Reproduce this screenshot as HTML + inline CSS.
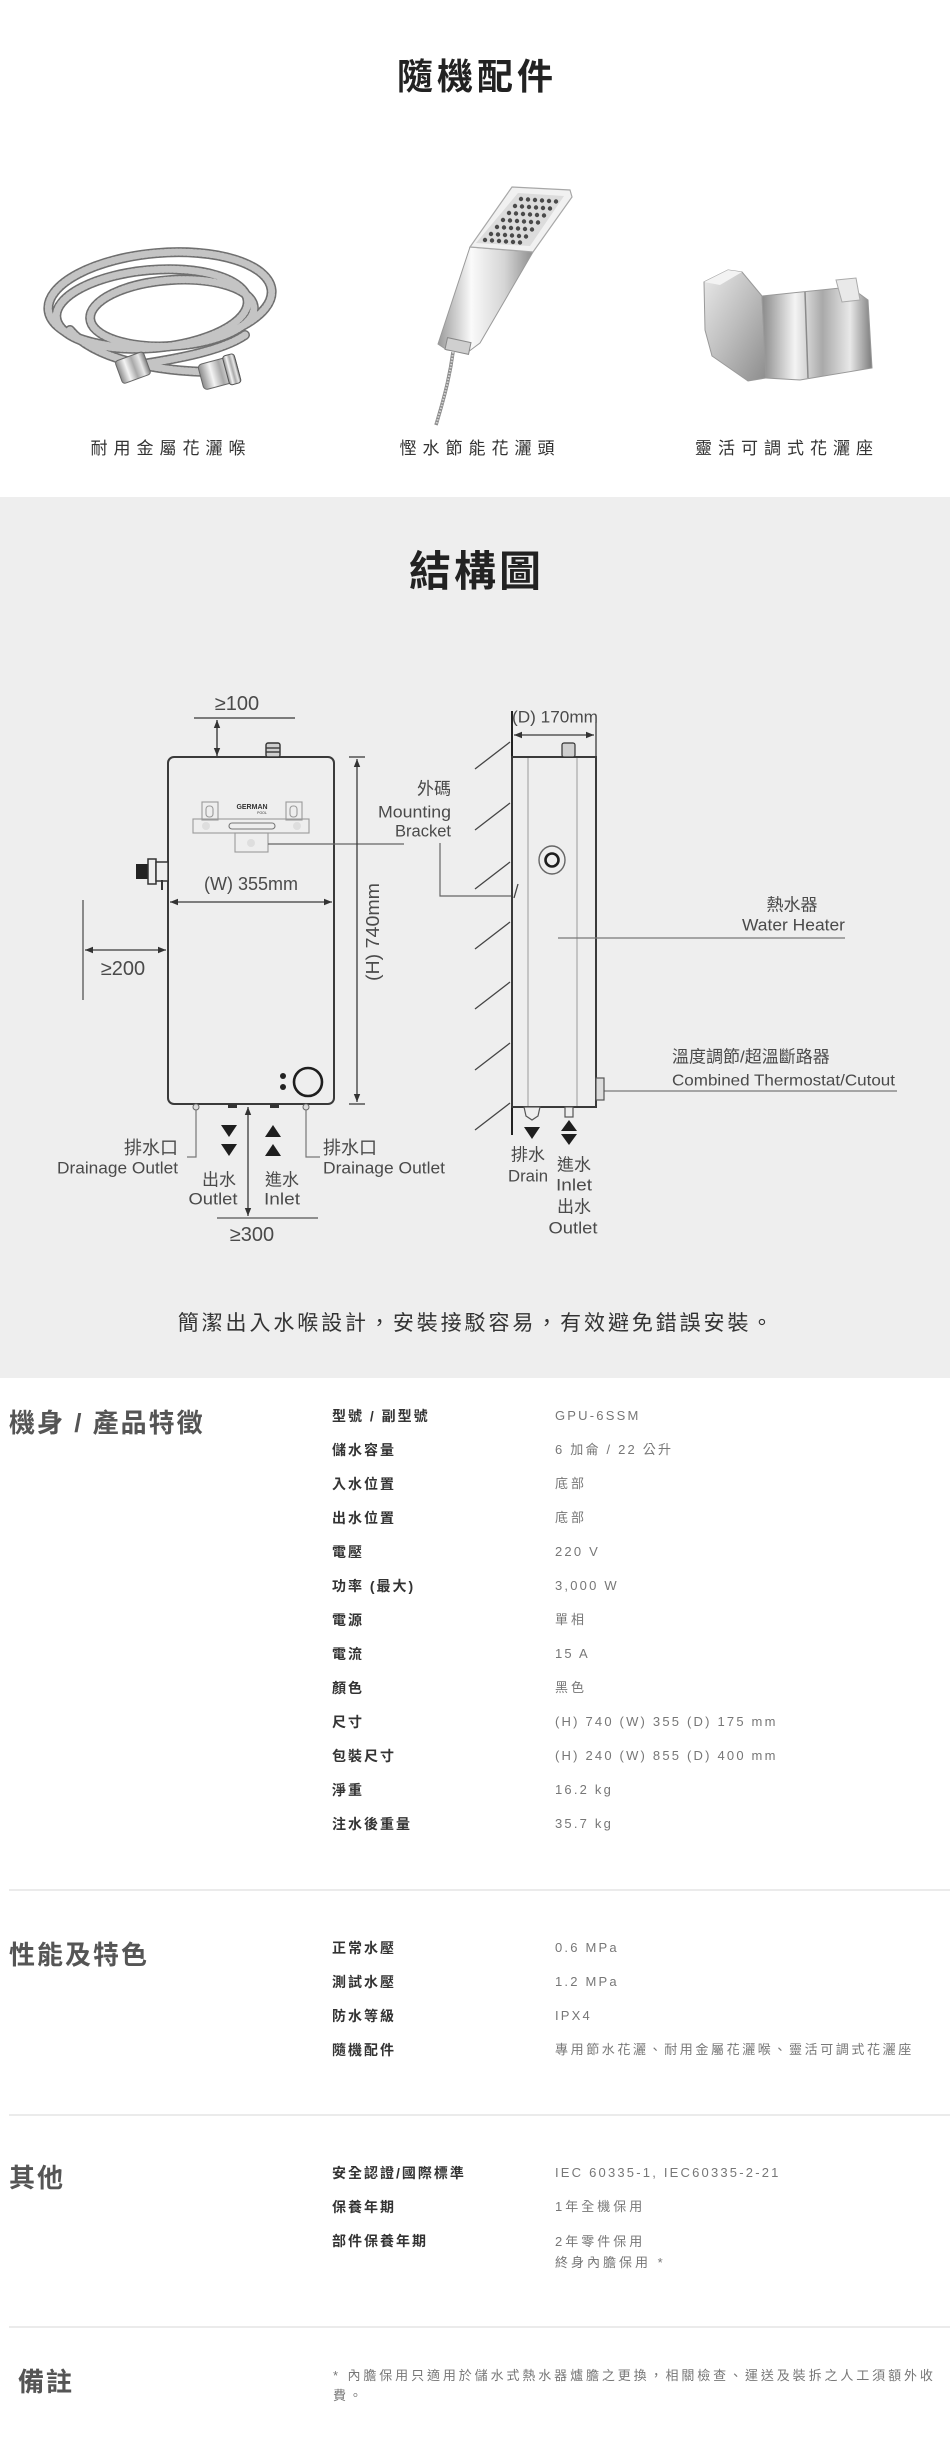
<!DOCTYPE html>
<html><head><meta charset="utf-8">
<style>
html,body{margin:0;padding:0;background:#fff;}
body{width:950px;height:2453px;position:relative;overflow:hidden;font-family:"Liberation Sans","Noto Sans CJK TC",sans-serif;}
.a{position:absolute;white-space:nowrap;}
.ttl{font-family:"Liberation Sans","Noto Sans CJK TC",sans-serif;font-weight:bold;color:#222;text-align:center;left:0;width:950px;}
.acc{font-size:17px;letter-spacing:6px;color:#333;line-height:20px;text-align:center;width:300px;}
.sec{font-size:26px;font-weight:bold;color:#555;letter-spacing:2px;line-height:30px;left:9px;}
.lb{left:332px;font-size:14px;font-weight:bold;color:#333;letter-spacing:2px;line-height:20px;}
.vl{left:555px;font-size:13px;color:#777;letter-spacing:2.2px;line-height:20px;}
.vc{letter-spacing:3px;}
.sep{position:absolute;left:9px;width:941px;height:2px;background:#ebebeb;}
</style></head>
<body>
<div style="position:absolute;left:0;top:497px;width:950px;height:881px;background:#eeeeee;"></div>

<svg width="950" height="2453" style="position:absolute;left:0;top:0" xmlns="http://www.w3.org/2000/svg">
<defs>
<marker id="m" viewBox="0 0 10 10" refX="10" refY="5" markerWidth="8" markerHeight="8" markerUnits="userSpaceOnUse" orient="auto-start-reverse"><path d="M0,1 L10,5 L0,9 z" fill="#333"/></marker>
<linearGradient id="chr" x1="0" y1="0" x2="1" y2="0">
<stop offset="0" stop-color="#8a8a8a"/><stop offset="0.3" stop-color="#f4f4f4"/><stop offset="0.55" stop-color="#a9a9a9"/><stop offset="0.8" stop-color="#e8e8e8"/><stop offset="1" stop-color="#7c7c7c"/></linearGradient>
<linearGradient id="chr2" x1="0" y1="0" x2="1" y2="1">
<stop offset="0" stop-color="#e9e9e9"/><stop offset="0.5" stop-color="#bdbdbd"/><stop offset="1" stop-color="#8d8d8d"/></linearGradient>
<linearGradient id="hd" x1="0" y1="0" x2="1" y2="0">
<stop offset="0" stop-color="#9a9a9a"/><stop offset="0.35" stop-color="#fafafa"/><stop offset="0.7" stop-color="#d5d5d5"/><stop offset="1" stop-color="#8f8f8f"/></linearGradient>
</defs>

<!-- ===== Hose ===== -->
<g fill="none" stroke-linecap="round">
<g stroke="#6f6f6f" stroke-width="10">
<ellipse cx="160" cy="300" rx="112" ry="47" transform="rotate(-5 160 300)"/>
<ellipse cx="152" cy="309" rx="96" ry="39" transform="rotate(-5 152 309)"/>
<ellipse cx="172" cy="313" rx="82" ry="33" transform="rotate(-4 172 313)"/>
<path d="M70,330 C95,360 160,372 215,372"/>
<path d="M245,335 C220,352 170,360 130,366"/>
</g>
<g stroke="#c4c4c4" stroke-width="7" stroke-dasharray="1.6 2.2">
<ellipse cx="160" cy="300" rx="112" ry="47" transform="rotate(-5 160 300)"/>
<ellipse cx="152" cy="309" rx="96" ry="39" transform="rotate(-5 152 309)"/>
<ellipse cx="172" cy="313" rx="82" ry="33" transform="rotate(-4 172 313)"/>
<path d="M70,330 C95,360 160,372 215,372"/>
<path d="M245,335 C220,352 170,360 130,366"/>
</g>
</g>
<g transform="rotate(-20 132 368)"><rect x="118" y="356" width="30" height="24" rx="3" fill="url(#chr)" stroke="#666" stroke-width="1"/></g>
<g transform="rotate(-15 218 372)"><rect x="200" y="360" width="38" height="26" rx="4" fill="url(#chr)" stroke="#666" stroke-width="1"/><rect x="226" y="358" width="12" height="30" rx="3" fill="url(#chr)" stroke="#555"/></g>

<!-- ===== Shower head ===== -->
<path d="M470,247 L533,252 L480,343 L468,352 L447,350 L438,344 Z" fill="url(#hd)" stroke="#9a9a9a" stroke-width="1"/>
<path d="M512,187 L570,190 L572,197 L533,252 L470,247 Z" fill="#f1f1f1" stroke="#a8a8a8" stroke-width="1.2"/>
<path d="M518,193 L564,196 L530,246 L476,243 Z" fill="#dcdcdc"/>
<g fill="#4a4a4a">
<circle cx="521" cy="199" r="2.2"/><circle cx="528" cy="199.5" r="2.2"/><circle cx="535" cy="200" r="2.2"/><circle cx="542" cy="200.5" r="2.2"/><circle cx="549" cy="201" r="2.2"/><circle cx="556" cy="201.5" r="2.2"/>
<circle cx="515" cy="206" r="2.2"/><circle cx="522" cy="206.5" r="2.2"/><circle cx="529" cy="207" r="2.2"/><circle cx="536" cy="207.5" r="2.2"/><circle cx="543" cy="208" r="2.2"/><circle cx="550" cy="208.5" r="2.2"/>
<circle cx="509" cy="213" r="2.2"/><circle cx="516" cy="213.5" r="2.2"/><circle cx="523" cy="214" r="2.2"/><circle cx="530" cy="214.5" r="2.2"/><circle cx="537" cy="215" r="2.2"/><circle cx="544" cy="215.5" r="2.2"/>
<circle cx="503" cy="220" r="2.2"/><circle cx="510" cy="220.5" r="2.2"/><circle cx="517" cy="221" r="2.2"/><circle cx="524" cy="221.5" r="2.2"/><circle cx="531" cy="222" r="2.2"/><circle cx="538" cy="222.5" r="2.2"/>
<circle cx="497" cy="227" r="2.2"/><circle cx="504" cy="227.5" r="2.2"/><circle cx="511" cy="228" r="2.2"/><circle cx="518" cy="228.5" r="2.2"/><circle cx="525" cy="229" r="2.2"/><circle cx="532" cy="229.5" r="2.2"/>
<circle cx="491" cy="234" r="2.2"/><circle cx="498" cy="234.5" r="2.2"/><circle cx="505" cy="235" r="2.2"/><circle cx="512" cy="235.5" r="2.2"/><circle cx="519" cy="236" r="2.2"/><circle cx="526" cy="236.5" r="2.2"/>
<circle cx="485" cy="240" r="2.2"/><circle cx="492" cy="240.5" r="2.2"/><circle cx="499" cy="241" r="2.2"/><circle cx="506" cy="241.5" r="2.2"/><circle cx="513" cy="242" r="2.2"/><circle cx="520" cy="242.5" r="2.2"/>
</g>
<rect x="446" y="340" width="24" height="12" fill="#cfcfcf" stroke="#888" transform="rotate(12 458 346)"/>
<path d="M453,352 C450,375 445,395 436,425" fill="none" stroke="#8a8a8a" stroke-width="3.5"/>
<path d="M453,352 C450,375 445,395 436,425" fill="none" stroke="#d5d5d5" stroke-width="2" stroke-dasharray="1.5 1.5"/>

<!-- ===== Holder ===== -->
<path d="M704,282 L728,270 L742,272 L762,296 L766,378 L748,381 L712,356 L705,330 Z" fill="url(#chr2)" stroke="#9a9a9a" stroke-width="1"/>
<path d="M704,282 L728,270 L742,272 L720,285 Z" fill="#f3f3f3"/>
<path d="M762,296 L850,287 L868,300 L872,368 L800,380 L766,378 Z" fill="url(#chr)" stroke="#999" stroke-width="1"/>
<path d="M836,280 L856,278 L860,300 L842,302 Z" fill="#e9e9e9" stroke="#aaa"/>
<line x1="805" y1="292" x2="808" y2="378" stroke="#8a8a8a" stroke-width="1.5"/>

<!-- ===== Diagram front view ===== -->
<g stroke="#3a3a3a" fill="none" stroke-width="1.4">
<line x1="194" y1="718" x2="295" y2="718" stroke="#555"/>
<line x1="217" y1="720" x2="217" y2="756" marker-start="url(#m)" marker-end="url(#m)"/>
<rect x="168" y="757" width="166" height="347" rx="6" stroke-width="2"/>
<rect x="266" y="743" width="14" height="14" rx="2" fill="#cfcfcf" stroke="#333"/>
<line x1="266" y1="748" x2="280" y2="748"/>
<line x1="266" y1="752" x2="280" y2="752"/>
</g>
<g stroke="#9a9a9a" fill="none" stroke-width="1.1">
<rect x="202" y="802" width="16" height="18"/>
<rect x="206" y="806" width="7" height="11" rx="3"/>
<rect x="286" y="802" width="16" height="18"/>
<rect x="290" y="806" width="7" height="11" rx="3"/>
<rect x="193" y="819" width="116" height="14"/>
<rect x="229" y="823" width="46" height="6" rx="3" stroke="#777"/>
<rect x="235" y="833" width="33" height="19"/>
<circle cx="206" cy="826" r="4" fill="#dedede" stroke="none"/>
<circle cx="297" cy="826" r="4" fill="#dedede" stroke="none"/>
<circle cx="251" cy="843" r="4" fill="#dedede" stroke="none"/>
</g>
<text x="252" y="809" font-family="Liberation Sans" font-size="7" font-weight="bold" fill="#333" text-anchor="middle">GERMAN</text>
<text x="262" y="814" font-family="Liberation Sans" font-size="3.5" fill="#333" text-anchor="middle">POOL</text>

<g stroke="#666" fill="none" stroke-width="1.2">
<line x1="268" y1="844" x2="404" y2="844"/>
<polyline points="440,843 440,896 513,896"/>
</g>
<!-- left valve -->
<rect x="136" y="864" width="12" height="15" fill="#222"/>
<rect x="148" y="859" width="8" height="25" fill="#eee" stroke="#333" stroke-width="1.5"/>
<rect x="156" y="862" width="12" height="19" fill="#eee" stroke="#333" stroke-width="1.5"/>
<line x1="162" y1="880" x2="162" y2="890" stroke="#333" stroke-width="2"/>

<g stroke="#3a3a3a" fill="none" stroke-width="1.3">
<line x1="170" y1="902" x2="332" y2="902" marker-start="url(#m)" marker-end="url(#m)"/>
<line x1="83" y1="900" x2="83" y2="1000" stroke="#555"/>
<line x1="85" y1="950" x2="166" y2="950" marker-start="url(#m)" marker-end="url(#m)"/>
<line x1="357" y1="759" x2="357" y2="1102" marker-start="url(#m)" marker-end="url(#m)"/>
<line x1="349" y1="757" x2="365" y2="757"/>
<line x1="349" y1="1104" x2="365" y2="1104"/>
<circle cx="308" cy="1082" r="14" stroke="#1e1e1e" stroke-width="2.6"/>
</g>
<circle cx="283" cy="1076" r="3" fill="#222"/>
<circle cx="283" cy="1087" r="3" fill="#222"/>
<circle cx="196" cy="1107" r="3" fill="#ddd" stroke="#666"/>
<circle cx="306" cy="1107" r="3" fill="#ddd" stroke="#666"/>
<rect x="228" y="1104" width="9" height="4" fill="#333"/>
<rect x="270" y="1104" width="9" height="4" fill="#333"/>
<g stroke="#777" fill="none" stroke-width="1.2">
<polyline points="196,1110 196,1157 187,1157"/>
<polyline points="306,1110 306,1157 320,1157"/>
</g>
<g fill="#1e1e1e">
<polygon points="221,1125 237,1125 229,1137"/>
<polygon points="221,1144 237,1144 229,1156"/>
<polygon points="273,1125 281,1137 265,1137"/>
<polygon points="273,1144 281,1156 265,1156"/>
</g>
<g stroke="#3a3a3a" fill="none" stroke-width="1.3">
<line x1="248" y1="1107" x2="248" y2="1216" marker-start="url(#m)" marker-end="url(#m)"/>
<line x1="217" y1="1218" x2="318" y2="1218" stroke="#555"/>
</g>

<!-- ===== Diagram side view ===== -->
<g stroke="#3a3a3a" fill="none" stroke-width="1.3">
<line x1="514" y1="735" x2="594" y2="735" marker-start="url(#m)" marker-end="url(#m)"/>
<line x1="596" y1="722" x2="596" y2="757"/>
<line x1="512" y1="711" x2="512" y2="1135" stroke="#222" stroke-width="2"/>
<rect x="512" y="757" width="84" height="350" stroke-width="2"/>
</g>
<g stroke="#999" stroke-width="1">
<line x1="528" y1="758" x2="528" y2="1106"/>
<line x1="577" y1="758" x2="577" y2="1106"/>
</g>
<rect x="562" y="743" width="13" height="14" rx="2" fill="#cfcfcf" stroke="#333" stroke-width="1.2"/>
<g stroke="#444" stroke-width="1.3">
<line x1="475" y1="769" x2="510" y2="742"/>
<line x1="475" y1="830" x2="510" y2="803"/>
<line x1="475" y1="889" x2="510" y2="862"/>
<line x1="475" y1="949" x2="510" y2="922"/>
<line x1="475" y1="1009" x2="510" y2="982"/>
<line x1="475" y1="1070" x2="510" y2="1043"/>
<line x1="475" y1="1130" x2="510" y2="1103"/>
<line x1="518" y1="884" x2="514" y2="898"/>
</g>
<ellipse cx="552" cy="860" rx="13" ry="14" fill="none" stroke="#666" stroke-width="1.4"/>
<circle cx="552" cy="860" r="6.5" fill="none" stroke="#1e1e1e" stroke-width="2.6"/>
<g stroke="#777" stroke-width="1.2">
<line x1="558" y1="938" x2="845" y2="938"/>
<line x1="604" y1="1091" x2="897" y2="1091"/>
</g>
<rect x="596" y="1078" width="8" height="22" fill="#ddd" stroke="#555" stroke-width="1.2"/>
<path d="M524,1107 L540,1107 L538,1116 L532,1120 L526,1116 Z" fill="#eee" stroke="#555" stroke-width="1.2"/>
<rect x="565" y="1107" width="8" height="10" fill="#eee" stroke="#555" stroke-width="1.2"/>
<g fill="#1e1e1e">
<polygon points="524,1127 540,1127 532,1139"/>
<polygon points="569,1120 577,1131 561,1131"/>
<polygon points="561,1134 577,1134 569,1145"/>
</g>

<!-- diagram text -->
<g fill="#4a4a4a" font-family="Liberation Sans, Noto Sans CJK TC, sans-serif" dominant-baseline="central">
<text x="237" y="704" font-size="20" text-anchor="middle">≥100</text>
<text x="251" y="884" font-size="18" text-anchor="middle" textLength="94" lengthAdjust="spacingAndGlyphs">(W) 355mm</text>
<text x="123" y="969" font-size="20" text-anchor="middle">≥200</text>
<text x="0" y="0" font-size="18" text-anchor="middle" transform="translate(373 932) rotate(-90)" textLength="98" lengthAdjust="spacingAndGlyphs">(H) 740mm</text>
<text x="451" y="789" font-size="17" text-anchor="end">外碼</text>
<text x="451" y="812" font-size="17" text-anchor="end" textLength="73" lengthAdjust="spacingAndGlyphs">Mounting</text>
<text x="451" y="831" font-size="17" text-anchor="end" textLength="56" lengthAdjust="spacingAndGlyphs">Bracket</text>
<text x="178" y="1148" font-size="18" text-anchor="end">排水口</text>
<text x="178" y="1168" font-size="17" text-anchor="end" textLength="121" lengthAdjust="spacingAndGlyphs">Drainage Outlet</text>
<text x="323" y="1148" font-size="18">排水口</text>
<text x="323" y="1168" font-size="17" textLength="122" lengthAdjust="spacingAndGlyphs">Drainage Outlet</text>
<text x="219" y="1180" font-size="17" text-anchor="middle">出水</text>
<text x="213" y="1199" font-size="17" text-anchor="middle" textLength="49" lengthAdjust="spacingAndGlyphs">Outlet</text>
<text x="282" y="1180" font-size="17" text-anchor="middle">進水</text>
<text x="282" y="1199" font-size="17" text-anchor="middle" textLength="36" lengthAdjust="spacingAndGlyphs">Inlet</text>
<text x="252" y="1235" font-size="20" text-anchor="middle">≥300</text>
<text x="555" y="717" font-size="17" text-anchor="middle" textLength="86" lengthAdjust="spacingAndGlyphs">(D) 170mm</text>
<text x="792" y="905" font-size="17" text-anchor="middle">熱水器</text>
<text x="845" y="925" font-size="17" text-anchor="end" textLength="103" lengthAdjust="spacingAndGlyphs">Water Heater</text>
<text x="672" y="1057" font-size="17">溫度調節/超溫斷路器</text>
<text x="672" y="1081" font-size="16" textLength="223" lengthAdjust="spacingAndGlyphs">Combined Thermostat/Cutout</text>
<text x="528" y="1155" font-size="17" text-anchor="middle">排水</text>
<text x="528" y="1176" font-size="17" text-anchor="middle" textLength="40" lengthAdjust="spacingAndGlyphs">Drain</text>
<text x="574" y="1165" font-size="17" text-anchor="middle">進水</text>
<text x="574" y="1185" font-size="17" text-anchor="middle" textLength="36" lengthAdjust="spacingAndGlyphs">Inlet</text>
<text x="574" y="1207" font-size="17" text-anchor="middle">出水</text>
<text x="573" y="1228" font-size="17" text-anchor="middle" textLength="49" lengthAdjust="spacingAndGlyphs">Outlet</text>
</g>
</svg>

<!-- Titles -->
<div class="a ttl" style="top:57px;font-size:36px;line-height:40px;letter-spacing:4px;padding-left:4px;box-sizing:border-box;">隨機配件</div>
<div class="a acc" style="left:21px;top:439px;">耐用金屬花灑喉</div>
<div class="a acc" style="left:330px;top:439px;">慳水節能花灑頭</div>
<div class="a acc" style="left:637px;top:439px;">靈活可調式花灑座</div>

<div class="a ttl" style="top:549px;font-size:42px;line-height:46px;letter-spacing:3px;padding-left:3px;box-sizing:border-box;">結構圖</div>

<div class="a" style="left:0;width:950px;text-align:center;top:1312px;font-size:21px;line-height:24px;letter-spacing:2.9px;color:#333;padding-left:3px;box-sizing:border-box;">簡潔出入水喉設計，安裝接駁容易，有效避免錯誤安裝。</div>

<!-- Spec section 1 -->
<div class="a sec" style="top:1408px;">機身 / 產品特徵</div>
<div class="a lb" style="top:1406px;">型號 / 副型號</div><div class="a vl" style="top:1406px;">GPU-6SSM</div>
<div class="a lb" style="top:1440px;">儲水容量</div><div class="a vl" style="top:1440px;">6 加侖 / 22 公升</div>
<div class="a lb" style="top:1474px;">入水位置</div><div class="a vl vc" style="top:1474px;">底部</div>
<div class="a lb" style="top:1508px;">出水位置</div><div class="a vl vc" style="top:1508px;">底部</div>
<div class="a lb" style="top:1542px;">電壓</div><div class="a vl" style="top:1542px;">220 V</div>
<div class="a lb" style="top:1576px;">功率 (最大)</div><div class="a vl" style="top:1576px;">3,000 W</div>
<div class="a lb" style="top:1610px;">電源</div><div class="a vl vc" style="top:1610px;">單相</div>
<div class="a lb" style="top:1644px;">電流</div><div class="a vl" style="top:1644px;">15 A</div>
<div class="a lb" style="top:1678px;">顏色</div><div class="a vl vc" style="top:1678px;">黑色</div>
<div class="a lb" style="top:1712px;">尺寸</div><div class="a vl" style="top:1712px;">(H) 740 (W) 355 (D) 175 mm</div>
<div class="a lb" style="top:1746px;">包裝尺寸</div><div class="a vl" style="top:1746px;">(H) 240 (W) 855 (D) 400 mm</div>
<div class="a lb" style="top:1780px;">淨重</div><div class="a vl" style="top:1780px;">16.2 kg</div>
<div class="a lb" style="top:1814px;">注水後重量</div><div class="a vl" style="top:1814px;">35.7 kg</div>

<div class="sep" style="top:1889px;"></div>

<!-- Spec section 2 -->
<div class="a sec" style="top:1940px;">性能及特色</div>
<div class="a lb" style="top:1938px;">正常水壓</div><div class="a vl" style="top:1938px;">0.6 MPa</div>
<div class="a lb" style="top:1972px;">測試水壓</div><div class="a vl" style="top:1972px;">1.2 MPa</div>
<div class="a lb" style="top:2006px;">防水等級</div><div class="a vl" style="top:2006px;">IPX4</div>
<div class="a lb" style="top:2040px;">隨機配件</div><div class="a vl vc" style="top:2040px;letter-spacing:2.6px;">專用節水花灑、耐用金屬花灑喉、靈活可調式花灑座</div>

<div class="sep" style="top:2114px;"></div>

<!-- Spec section 3 -->
<div class="a sec" style="top:2163px;">其他</div>
<div class="a lb" style="top:2163px;">安全認證/國際標準</div><div class="a vl" style="top:2163px;">IEC 60335-1, IEC60335-2-21</div>
<div class="a lb" style="top:2197px;">保養年期</div><div class="a vl vc" style="top:2197px;">1年全機保用</div>
<div class="a lb" style="top:2231px;">部件保養年期</div><div class="a vl vc" style="top:2231px;line-height:21px;">2年零件保用<br>終身內膽保用 *</div>

<div class="sep" style="top:2326px;"></div>

<!-- Notes -->
<div class="a sec" style="top:2367px;left:18px;">備註</div>
<div class="a vl" style="left:333px;top:2366px;letter-spacing:2.9px;line-height:20px;">* 內膽保用只適用於儲水式熱水器爐膽之更換，相關檢查、運送及裝拆之人工須額外收<br>費。</div>

</body></html>
